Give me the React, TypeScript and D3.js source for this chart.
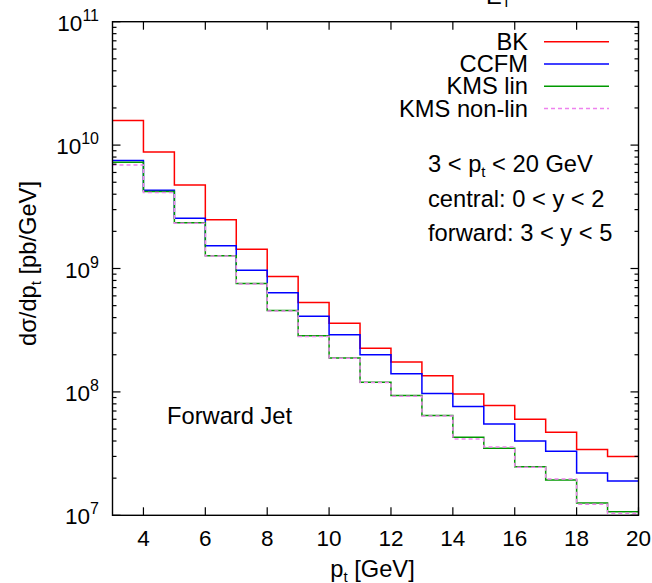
import React from "react";
import * as d3 from "d3";

// Bin edges in p_t [GeV]: 17 bins of width 1 GeV from 3 to 20
const binEdges = [3, 4, 5, 6, 7, 8, 9, 10, 11, 12, 13, 14, 15, 16, 17, 18, 19, 20];

// dσ/dp_t [pb/GeV] per bin
const bk = [1.58e10, 8.8e9, 4.75e9, 2.48e9, 1.43e9, 8.6e8, 5.3e8, 3.6e8, 2.26e8, 1.75e8, 1.35e8, 9.6e7, 7.75e7, 6.0e7, 4.7e7, 3.42e7, 3.0e7];
const ccfm = [7.5e9, 4.3e9, 2.55e9, 1.53e9, 9.7e8, 6.35e8, 4.1e8, 2.9e8, 2.0e8, 1.4e8, 9.7e7, 7.6e7, 5.5e7, 4.0e7, 3.3e7, 2.2e7, 1.9e7];
const kmsLin = [7.25e9, 4.2e9, 2.35e9, 1.27e9, 7.55e8, 4.57e8, 2.85e8, 1.88e8, 1.2e8, 9.35e7, 6.45e7, 4.3e7, 3.5e7, 2.47e7, 1.93e7, 1.26e7, 1.07e7];
const kmsNonLin = [6.9e9, 4.12e9, 2.33e9, 1.26e9, 7.5e8, 4.52e8, 2.81e8, 1.87e8, 1.19e8, 9.2e7, 6.38e7, 4.16e7, 3.58e7, 2.45e7, 1.97e7, 1.23e7, 1.04e7];

const xTicks = [4, 6, 8, 10, 12, 14, 16, 18, 20];
const yExponents = [7, 8, 9, 10, 11];

const seriesNames = ["BK", "CCFM", "KMS lin", "KMS non-lin"];
const seriesColors = ["#ff0000", "#0000ff", "#009900", "#ee82ee"];

const W = 652;
const H = 583;
const left = 112.5;
const right = 638.5;
const top = 21.7;
const bottom = 515.3;
const FONT = "'Liberation Sans', Arial, Helvetica, sans-serif";
const LABEL_SIZE = 23.7;
const TICK_SIZE = 22.5;

export default function App() {
  const x = d3.scaleLinear().domain([3, 20]).range([left, right]);
  const y = d3.scaleLog().domain([1e7, 1e11]).range([bottom, top]);

  const stepLine = d3
    .line<[number, number]>()
    .x((d) => x(d[0]))
    .y((d) => y(d[1]))
    .curve(d3.curveStepAfter);

  const histPath = (vals: number[]) => {
    const pts: [number, number][] = vals.map((v, i) => [binEdges[i], v]);
    pts.push([binEdges[binEdges.length - 1], vals[vals.length - 1]]);
    return stepLine(pts) || "";
  };

  // minor log ticks
  const minor: number[] = [];
  for (let e = 7; e < 11; e++) {
    for (let m = 2; m <= 9; m++) minor.push(m * Math.pow(10, e));
  }

  const majorLen = 8;
  const minorLen = 4;

  return (
    <svg
      width={W}
      height={H}
      style={{ position: "absolute", left: 0, top: 0, background: "#fff" }}
      fontFamily={FONT}
    >
      {/* title, running off the top edge */}
      <text x={486} y={4} fontSize={LABEL_SIZE} fill="#000">
        E
        <tspan dy={3} fontSize={15}>T</tspan>
      </text>

      {/* histograms */}
      <g fill="none" strokeWidth={1.5}>
        <path d={histPath(bk)} stroke={seriesColors[0]} />
        <path d={histPath(ccfm)} stroke={seriesColors[1]} />
        <path d={histPath(kmsLin)} stroke={seriesColors[2]} />
        <path d={histPath(kmsNonLin)} stroke={seriesColors[3]} strokeDasharray="4,3" />
      </g>

      {/* ticks, mirrored on all sides */}
      <g stroke="#000" strokeWidth={1.2}>
        {yExponents.map((e) => {
          const yy = y(Math.pow(10, e));
          return (
            <g key={"yM" + e}>
              <line x1={left} x2={left + majorLen} y1={yy} y2={yy} />
              <line x1={right} x2={right - majorLen} y1={yy} y2={yy} />
            </g>
          );
        })}
        {minor.map((v, i) => {
          const yy = y(v);
          return (
            <g key={"ym" + i}>
              <line x1={left} x2={left + minorLen} y1={yy} y2={yy} />
              <line x1={right} x2={right - minorLen} y1={yy} y2={yy} />
            </g>
          );
        })}
        {xTicks.map((t) => (
          <g key={"xt" + t}>
            <line x1={x(t)} x2={x(t)} y1={bottom} y2={bottom - majorLen} />
            <line x1={x(t)} x2={x(t)} y1={top} y2={top + majorLen} />
          </g>
        ))}
      </g>

      {/* frame */}
      <rect
        x={left}
        y={top}
        width={right - left}
        height={bottom - top}
        fill="none"
        stroke="#000"
        strokeWidth={1.4}
      />

      {/* y tick labels */}
      {yExponents.map((e) => (
        <text
          key={"yl" + e}
          x={99}
          y={y(Math.pow(10, e)) + 9}
          fontSize={TICK_SIZE}
          textAnchor="end"
          fill="#000"
        >
          10
          <tspan dy={-10} fontSize={16}>
            {e}
          </tspan>
        </text>
      ))}

      {/* x tick labels */}
      {xTicks.map((t) => (
        <text key={"xl" + t} x={x(t)} y={546} fontSize={TICK_SIZE} textAnchor="middle" fill="#000">
          {t}
        </text>
      ))}

      {/* axis titles */}
      <text x={(left + right) / 2 - 3} y={577} fontSize={LABEL_SIZE} textAnchor="middle" fill="#000">
        p<tspan dy={5} fontSize={15}>t</tspan>
        <tspan dy={-5}> [GeV]</tspan>
      </text>
      <text
        transform={`translate(36, ${(top + bottom) / 2 - 5}) rotate(-90)`}
        fontSize={LABEL_SIZE}
        textAnchor="middle"
        fill="#000"
      >
        dσ/dp<tspan dy={5} fontSize={15}>t</tspan>
        <tspan dy={-5}> [pb/GeV]</tspan>
      </text>

      {/* legend */}
      {seriesNames.map((name, i) => {
        const yy = 41.7 + i * 22.3;
        return (
          <g key={"lg" + i}>
            <text x={528} y={yy + 8} fontSize={LABEL_SIZE} textAnchor="end" fill="#000">
              {name}
            </text>
            <line
              x1={544}
              x2={609}
              y1={yy}
              y2={yy}
              stroke={seriesColors[i]}
              strokeWidth={1.5}
              strokeDasharray={i === 3 ? "4,3" : undefined}
            />
          </g>
        );
      })}

      {/* annotations */}
      <text x={428} y={172} fontSize={LABEL_SIZE} fill="#000">
        3 &lt; p<tspan dy={5} fontSize={15}>t</tspan>
        <tspan dy={-5}> &lt; 20 GeV</tspan>
      </text>
      <text x={428} y={207} fontSize={LABEL_SIZE} fill="#000">
        central: 0 &lt; y &lt; 2
      </text>
      <text x={428} y={241} fontSize={LABEL_SIZE} fill="#000">
        forward: 3 &lt; y &lt; 5
      </text>
      <text x={167} y={424} fontSize={LABEL_SIZE} fill="#000">
        Forward Jet
      </text>
    </svg>
  );
}
